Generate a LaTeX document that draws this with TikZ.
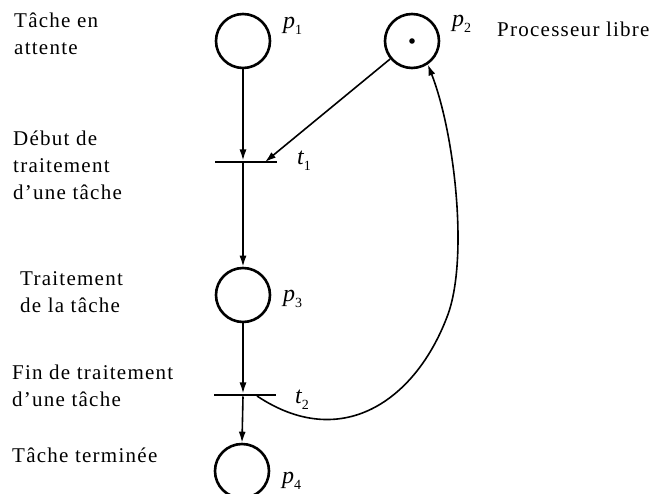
\documentclass[tikz,border=0pt]{standalone}
\usepackage{fontspec}
\setmainfont{Liberation Serif}[LetterSpace=6]
\usetikzlibrary{arrows.meta}
\newcommand{\sublab}[2]{{\itshape #1}\raisebox{-6pt}{\fontsize{14}{14}\selectfont #2}}
\begin{document}
\begin{tikzpicture}[x=1pt,y=-1pt,
  place/.style={circle,draw,line width=2.6pt,minimum size=54pt,inner sep=0pt},
  bar/.style={fill=black,minimum width=62pt,minimum height=2.6pt,inner sep=0pt},
  arc/.style={line width=1.6pt,-{Latex[length=11pt,width=7pt]}},
  txt/.style={font=\fontsize{21}{27}\selectfont,align=left,anchor=base west,inner sep=0pt},
  lab/.style={font=\fontsize{24}{27}\selectfont,anchor=base west,inner sep=0pt}]
\useasboundingbox (0,0) rectangle (654,494);
% places
\node[place] (p1) at (243,41) {};
\node[place] (p2) at (412,41) {};
\node[place] (p3) at (243,295) {};
\node[place] (p4) at (242,471) {};
\fill (p2.center) circle (2.8pt);
% transitions
\node[bar] (t1) at (246,162) {};
\node[bar] (t2) at (245,395) {};
\coordinate (t1a) at (265,162);
\coordinate (t2a) at (257,396);
\coordinate (bend) at (447,317);
% arcs
\draw[arc] (p1.south) -- (p1.south |- t1.north);
\draw[arc] (p2) -- (t1a);
\draw[arc] (p1.south |- t1.south) -- (p3.north);
\draw[arc] (p3.south) -- (p3.south |- t2.north);
\draw[arc] (p3.south |- t2.south) -- (p4.north);
\draw[arc] (t2a) .. controls (341,452) and (415,401) .. (bend)
  .. controls (469,261) and (455,134) .. (p2.-56);
% labels of places and transitions
\node[lab] (lp1) at (283,29) {\sublab{p}{1}};
\node[lab] (lp2) at (452,27) {\sublab{p}{2}};
\node[lab] (lp3) at (283,302) {\sublab{p}{3}};
\node[lab] (lp4) at (282,483) {\sublab{p}{4}};
\node[lab] (lt1) at (297,165) {\sublab{t}{1}};
\node[lab] (lt2) at (295,404) {\sublab{t}{2}};
% texts (anchor at the baseline of the last line)
\node[txt] (a) at (14,55) {Tâche en\\attente};
\node[txt] (b) at (497,37) {Processeur libre};
\node[txt] (c) at (13,200) {Début de\\traitement\\d'une tâche};
\node[txt] (d) at (20,313) {Traitement\\de la tâche};
\node[txt] (e) at (12,407) {Fin de traitement\\d'une tâche};
\node[txt] (f) at (12,463) {Tâche terminée};
\end{tikzpicture}
\end{document}
